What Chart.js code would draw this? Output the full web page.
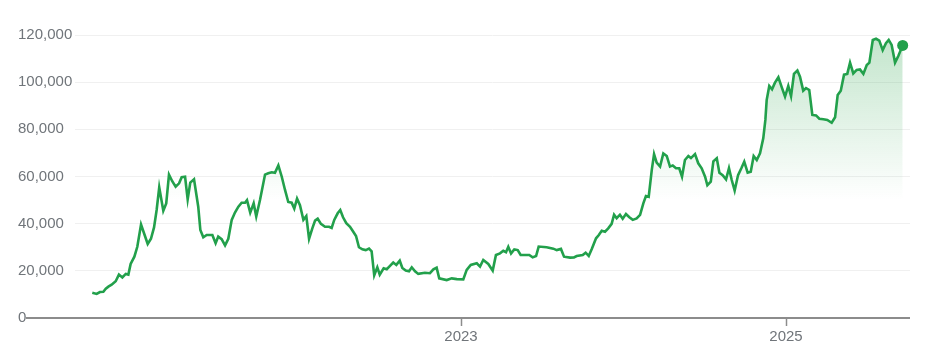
<!DOCTYPE html>
<html>
<head>
<meta charset="utf-8">
<script src="https://cdn.jsdelivr.net/npm/chart.js@4"></script>
<style>
  html, body { margin: 0; padding: 0; background: #ffffff; }
  #wrap { width: 936px; height: 358px; }
</style>
</head>
<body>
<div id="wrap"><canvas id="c" width="936" height="358"></canvas></div>
<script>
// Dates as decimal years
const years = [
  2020.731,2020.758,2020.778,2020.799,2020.814,2020.830,2020.850,2020.875,2020.895,2020.916,
  2020.937,2020.953,2020.967,2020.990,2021.008,2021.031,2021.051,2021.072,2021.092,2021.111,
  2021.127,2021.143,2021.168,2021.186,2021.203,2021.223,2021.244,2021.265,2021.281,2021.302,
  2021.318,2021.334,2021.357,2021.383,2021.396,2021.414,2021.435,2021.470,2021.490,2021.506,
  2021.527,2021.548,2021.568,2021.589,2021.609,2021.630,2021.650,2021.671,2021.683,2021.703,
  2021.724,2021.740,2021.763,2021.794,2021.814,2021.835,2021.855,2021.876,2021.897,2021.917,
  2021.937,2021.958,2021.974,2021.991,2022.009,2022.030,2022.048,2022.065,2022.085,2022.102,
  2022.118,2022.138,2022.163,2022.188,2022.204,2022.220,2022.241,2022.257,2022.274,2022.294,
  2022.317,2022.337,2022.354,2022.372,2022.393,2022.414,2022.434,2022.450,2022.466,2022.485,
  2022.500,2022.524,2022.543,2022.563,2022.583,2022.602,2022.623,2022.639,2022.660,2022.680,
  2022.697,2022.717,2022.737,2022.778,2022.809,2022.830,2022.850,2022.866,2022.912,2022.943,
  2022.974,2023.014,2023.035,2023.060,2023.097,2023.117,2023.137,2023.168,2023.195,2023.215,
  2023.240,2023.260,2023.277,2023.291,2023.308,2023.328,2023.349,2023.367,2023.394,2023.420,
  2023.441,2023.462,2023.478,2023.527,2023.568,2023.589,2023.615,2023.634,2023.671,2023.695,
  2023.712,2023.749,2023.767,2023.786,2023.806,2023.831,2023.847,2023.866,2023.886,2023.906,
  2023.927,2023.942,2023.958,2023.978,2023.995,2024.015,2024.036,2024.057,2024.081,2024.102,
  2024.122,2024.138,2024.155,2024.174,2024.188,2024.204,2024.225,2024.245,2024.266,2024.286,
  2024.303,2024.323,2024.343,2024.360,2024.378,2024.399,2024.415,2024.440,2024.460,2024.481,
  2024.502,2024.516,2024.537,2024.553,2024.574,2024.590,2024.610,2024.631,2024.649,2024.666,
  2024.684,2024.705,2024.725,2024.743,2024.764,2024.783,2024.801,2024.820,2024.840,2024.860,
  2024.873,2024.881,2024.897,2024.914,2024.932,2024.953,2024.974,2024.994,2025.014,2025.031,
  2025.049,2025.070,2025.086,2025.106,2025.123,2025.143,2025.162,2025.185,2025.205,2025.230,
  2025.254,2025.281,2025.302,2025.318,2025.337,2025.357,2025.377,2025.394,2025.414,2025.435,
  2025.455,2025.476,2025.497,2025.513,2025.534,2025.554,2025.574,2025.595,2025.615,2025.632,
  2025.650,2025.671,2025.691,2025.718
];

// Prices
const prices = [
  10700,10200,11000,11150,12400,13300,14100,15600,18400,17200,
  18700,18400,22900,26000,30200,39600,35600,31400,33600,38400,
  45800,55400,45500,48600,60800,58000,55700,57100,59700,59900,
  50300,57400,58800,47200,37300,34200,35200,35200,31700,34500,
  33400,30800,33600,41600,44700,47200,48900,48900,50000,44700,
  48600,43000,50000,60800,61400,61800,61600,64700,59900,54300,
  49200,48900,46400,50600,47800,41600,43200,33600,38000,41300,
  42100,39900,38700,38700,38200,41600,44400,45800,42700,40200,
  38700,36600,34800,30000,29100,28800,29400,28300,18100,21500,
  18400,21100,20700,22100,23500,22500,24300,21200,20100,19800,
  21500,19800,18700,19200,19000,20600,21300,16800,16100,16800,
  16500,16400,20400,22500,23200,21800,24600,22900,20100,26700,
  27400,28500,27900,30200,27400,29100,28800,26700,26700,26700,
  25700,26300,30300,30000,29400,28800,29300,26000,25600,25700,
  26300,26700,27700,26300,29500,33800,35100,37000,36600,38000,
  39900,43800,42300,43800,42100,44100,42700,41600,42200,43700,
  48600,51700,51400,62800,69500,65900,64200,69800,68700,64200,
  64700,63500,63500,59900,67000,68700,67800,69500,65600,63500,
  59900,56300,57800,66400,67700,61600,60600,58800,63500,58500,
  54000,60600,63500,66300,61600,62000,68700,67000,69800,76200,
  84000,92400,98400,97000,99800,102100,97800,93900,98400,94100,
  103500,104900,102300,96400,97500,96700,86100,85900,84500,84300,
  84000,82800,85100,94600,96400,103200,103500,108300,103700,105200,
  105400,103500,107300,108300,117900,118400,117600,113600,116500,117900,
  115800,108300,111100,115600
];

const xTickYears = [2023, 2025];
const yTickValues = [0, 20000, 40000, 60000, 80000, 100000, 120000];

const GREEN = '#22a04b';
const AXIS_GRAY = '#8c8c8c';
const LABEL_GRAY = '#70757a';

const points = years.map((x, i) => ({ x: x, y: prices[i] }));

const baselinePlugin = {
  id: 'baseline',
  afterDatasetsDraw(chart) {
    const ctx = chart.ctx;
    const y0 = chart.scales.y.getPixelForValue(0);
    ctx.save();
    ctx.strokeStyle = AXIS_GRAY;
    ctx.lineWidth = 2;
    ctx.beginPath();
    ctx.moveTo(26, y0);
    ctx.lineTo(chart.chartArea.right, y0);
    ctx.stroke();
    ctx.restore();
  }
};

new Chart(document.getElementById('c'), {
  type: 'line',
  data: {
    datasets: [{
      data: points,
      borderColor: GREEN,
      borderWidth: 2.6,
      tension: 0,
      fill: 'origin',
      backgroundColor(context) {
        const chart = context.chart;
        const area = chart.chartArea;
        if (!area) return 'rgba(0,0,0,0)';
        const g = chart.ctx.createLinearGradient(0, area.top, 0, area.top + 165);
        g.addColorStop(0, 'rgba(52,168,83,0.30)');
        g.addColorStop(1, 'rgba(52,168,83,0)');
        return g;
      },
      pointRadius(ctx) { return ctx.dataIndex === prices.length - 1 ? 5.5 : 0; },
      pointBackgroundColor: GREEN,
      pointBorderColor: GREEN,
      pointBorderWidth: 0,
      pointHoverRadius: 0
    }]
  },
  options: {
    responsive: false,
    animation: false,
    layout: { padding: { left: 18, right: 26, top: 35, bottom: 0 } },
    plugins: { legend: { display: false }, tooltip: { enabled: false } },
    scales: {
      x: {
        type: 'linear',
        min: 2020.6246,
        max: 2025.763,
        afterBuildTicks(scale) { scale.ticks = xTickYears.map(v => ({ value: v })); },
        afterFit(scale) { scale.height = 40; },
        ticks: {
          callback: v => String(v),
          color: LABEL_GRAY,
          font: { family: 'Liberation Sans, Arial, sans-serif', size: 15 },
          padding: 2,
          maxRotation: 0,
          autoSkip: false
        },
        grid: {
          drawOnChartArea: false,
          drawTicks: true,
          tickLength: 8,
          tickWidth: 1.5,
          tickColor: AXIS_GRAY
        },
        border: { display: false }
      },
      y: {
        min: 0,
        max: 120000,
        afterBuildTicks(scale) { scale.ticks = yTickValues.map(v => ({ value: v })); },
        afterFit(scale) { scale.width = 57; },
        ticks: {
          crossAlign: 'far',
          callback: v => v.toLocaleString('en-US'),
          color: LABEL_GRAY,
          font: { family: 'Liberation Sans, Arial, sans-serif', size: 15 },
          padding: 6
        },
        grid: { color: '#f0f0f0', lineWidth: 1, drawTicks: false },
        border: { display: false }
      }
    }
  },
  plugins: [baselinePlugin]
});
</script>
</body>
</html>
